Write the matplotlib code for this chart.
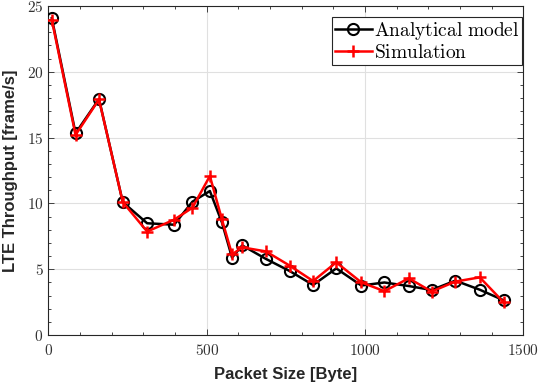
import matplotlib
matplotlib.use("Agg")
import matplotlib.pyplot as plt
from matplotlib.ticker import MultipleLocator, FuncFormatter

plt.rcParams['mathtext.fontset'] = 'cm'

packet_size = [11, 86, 160, 235, 312, 397, 455, 510, 548, 580, 612, 687,
               762, 836, 909, 988, 1061, 1138, 1210, 1285, 1362, 1438]
analytical = [24.07, 15.33, 17.93, 10.1, 8.49, 8.38, 10.13, 10.94, 8.56, 5.88, 6.81, 5.78,
              4.86, 3.8, 5.06, 3.76, 3.99, 3.72, 3.42, 4.13, 3.44, 2.63]
simulation = [23.95, 15.2, 17.9, 10.1, 7.86, 8.76, 9.67, 12.08, 8.79, 6.12, 6.66, 6.35,
              5.27, 4.1, 5.52, 4.0, 3.33, 4.31, 3.3, 4.06, 4.38, 2.47]

x_ticks = [0, 500, 1000, 1500]
y_ticks = [0, 5, 10, 15, 20, 25]

fig = plt.figure(figsize=(5.38, 3.88), dpi=100)
ax = fig.add_axes([0.0898, 0.1366, 0.8832, 0.848])

ax.plot(packet_size, analytical, color='black', lw=1.8, marker='o', ms=8,
        mfc='none', mew=1.5, label=r'$\mathrm{Analytical\ model}$', zorder=3)
ax.plot(packet_size, simulation, color='#ff0000', lw=1.8, marker='+', ms=9,
        mew=1.8, label=r'$\mathrm{Simulation}$', zorder=4)

ax.set_xlim(0, 1500)
ax.set_ylim(0, 25)
ax.set_xticks(x_ticks)
ax.set_yticks(y_ticks)
ax.xaxis.set_minor_locator(MultipleLocator(100))
ax.yaxis.set_minor_locator(MultipleLocator(1))
fmt = FuncFormatter(lambda v, p: r'$%d$' % v)
ax.xaxis.set_major_formatter(fmt)
ax.yaxis.set_major_formatter(fmt)
ax.tick_params(which='both', direction='in', top=True, right=True, colors='#262626',
               labelcolor='#333333', labelsize=11, width=0.6)
ax.tick_params(which='major', length=4)
ax.tick_params(which='minor', length=2.5)
ax.tick_params(axis='x', pad=6)
ax.grid(True, which='major', color='#e0e0e0', lw=0.8)
ax.set_axisbelow(True)
for s in ax.spines.values():
    s.set_color('#262626')
    s.set_linewidth(0.8)

ax.set_xlabel('Packet Size [Byte]', fontfamily='Liberation Sans', fontweight='bold',
              fontsize=12, color='#262626', labelpad=6)
ax.set_ylabel('LTE Throughput [frame/s]', fontfamily='Liberation Sans', fontweight='bold',
              fontsize=12, color='#262626', labelpad=6)

leg = ax.legend(loc='upper right', bbox_to_anchor=(0.997, 0.966), fontsize=14,
                frameon=True, fancybox=False, edgecolor='#262626', borderpad=0.15,
                handlelength=1.9, handletextpad=0.1, labelspacing=0.05,
                borderaxespad=0.0, framealpha=1)
leg.get_frame().set_linewidth(0.8)

fig.savefig('out.png', dpi=100)
